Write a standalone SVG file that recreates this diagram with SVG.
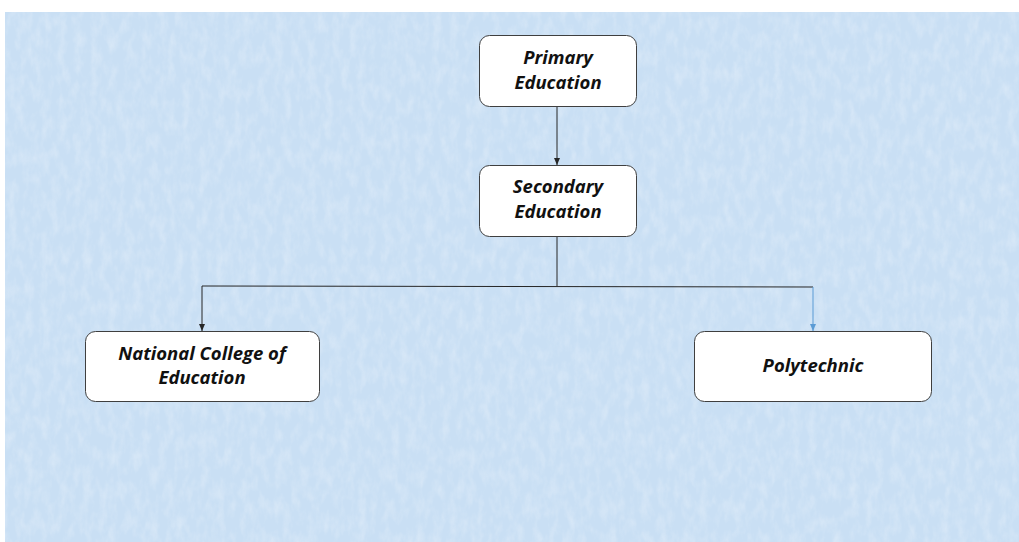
<svg xmlns="http://www.w3.org/2000/svg" width="1019" height="542" viewBox="0 0 1019 542">
<defs>
<style>
.box{fill:#ffffff;stroke:#3f3f3f;stroke-width:1}
.lbl{font-family:"Open Sans","Liberation Sans",sans-serif;font-weight:bold;font-style:italic;font-size:18.5px;fill:#111111;text-anchor:middle;font-variant-ligatures:none}
.con{fill:none;stroke:#262626;stroke-width:1}
</style>
<marker id="ah" markerWidth="8" markerHeight="8" refX="7" refY="3.5" orient="auto" markerUnits="userSpaceOnUse">
<path d="M0,0.5 L7,3.5 L0,6.5 Z" fill="#262626"/>
</marker>
<marker id="ahb" markerWidth="8" markerHeight="8" refX="7" refY="3.5" orient="auto" markerUnits="userSpaceOnUse">
<path d="M0,0.5 L7,3.5 L0,6.5 Z" fill="#5b9bd5"/>
</marker>
<filter id="noise" x="0" y="0" width="100%" height="100%">
<feTurbulence type="fractalNoise" baseFrequency="0.12 0.06" numOctaves="3" seed="4" result="n"/>
<feColorMatrix in="n" type="matrix" values="0 0 0 0 1  0 0 0 0 1  0 0 0 0 1  0 0 0 0.9 -0.35"/>
</filter>
</defs>
<rect width="1019" height="542" fill="#ffffff"/>
<rect x="5" y="12" width="1014" height="530" fill="#c9dff4"/>
<rect x="5" y="12" width="1014" height="530" filter="url(#noise)" opacity="0.55"/>
<g id="connectors">
<line class="con" x1="557" y1="106" x2="557" y2="165" marker-end="url(#ah)"/>
<polyline class="con" points="557,237 557,286"/>
<polyline class="con" points="202,286 813,287"/>
<line class="con" x1="202" y1="286" x2="202" y2="331" marker-end="url(#ah)"/>
<line x1="813" y1="287" x2="813" y2="331" stroke="#5b9bd5" stroke-width="1" marker-end="url(#ahb)"/>
</g>
<g id="primary">
<rect class="box" x="479.5" y="35.5" width="157" height="71" rx="10"/>
<text class="lbl" x="558" y="64">Primary</text>
<text class="lbl" x="558" y="89">Education</text>
</g>
<g id="secondary">
<rect class="box" x="479.5" y="165.5" width="157" height="71" rx="10"/>
<text class="lbl" x="558" y="193">Secondary</text>
<text class="lbl" x="558" y="218">Education</text>
</g>
<g id="nce">
<rect class="box" x="85.5" y="331.5" width="234" height="70" rx="10"/>
<text class="lbl" x="202" y="360">National College of</text>
<text class="lbl" x="202" y="384">Education</text>
</g>
<g id="polytechnic">
<rect class="box" x="694.5" y="331.5" width="237" height="70" rx="10"/>
<text class="lbl" x="813" y="372">Polytechnic</text>
</g>
</svg>
